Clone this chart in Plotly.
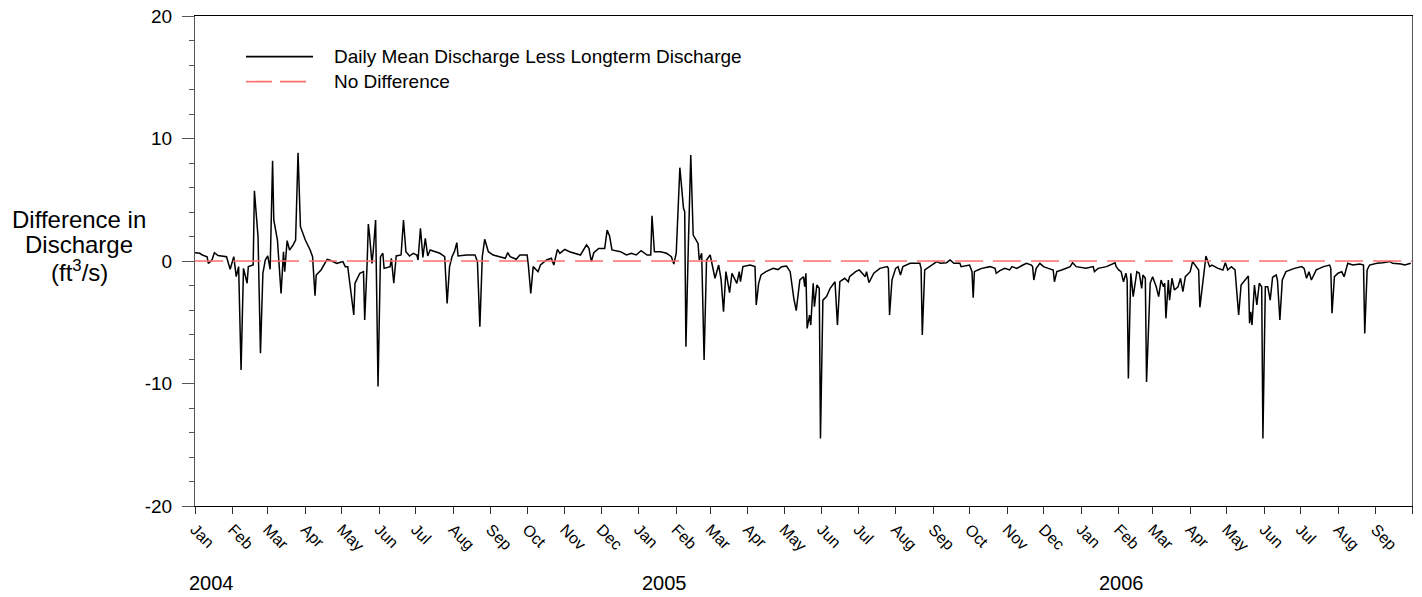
import pandas as pd
import plotly.graph_objects as go

# ---- data: day offsets from 2004-01-01 and discharge difference (ft3/s) ----
day_offset = [
    0, 4, 6, 10, 11, 14, 16, 19, 26, 29, 32, 34, 36, 38, 40, 43, 44, 48, 49, 52,
    54, 56, 58, 60, 62, 64, 65, 68, 71, 73, 74, 76, 78, 81, 83, 85, 87, 91, 95, 97,
    99, 100, 104, 109, 111, 117, 122, 124, 126, 128, 131, 132, 136, 139, 140, 142, 143, 144, 146, 147,
    149, 151, 153, 155, 156, 161, 162, 164, 166, 170, 172, 174, 177, 180, 183, 184, 186, 188, 190, 192,
    194, 202, 206, 208, 210, 212, 214, 216, 217, 224, 231, 233, 235, 237, 239, 242, 246, 256, 258, 260,
    265, 268, 274, 275, 277, 279, 283, 285, 290, 294, 296, 299, 301, 305, 309, 318, 323, 325, 327, 329,
    333, 338, 340, 342, 344, 351, 356, 360, 364, 368, 373, 376, 377, 379, 384, 389, 393, 395, 397, 400,
    403, 404, 405, 407, 409, 411, 415, 416, 418, 420, 422, 425, 427, 429, 432, 434, 436, 438, 441, 443,
    447, 449, 450, 452, 458, 462, 463, 465, 467, 471, 477, 481, 484, 488, 491, 494, 496, 499, 502, 503,
    504, 505, 507, 508, 510, 511, 513, 515, 516, 518, 521, 524, 528, 530, 532, 536, 539, 540, 545, 548,
    553, 554, 556, 560, 565, 571, 572, 573, 575, 578, 580, 582, 584, 590, 598, 599, 600, 602, 606, 612,
    615, 620, 623, 626, 631, 632, 639, 641, 642, 643, 646, 649, 656, 660, 661, 664, 668, 672, 674, 678,
    683, 686, 690, 691, 692, 694, 697, 700, 704, 708, 709, 711, 715, 722, 724, 727, 735, 741, 742, 745,
    752, 757, 759, 760, 762, 764, 766, 768, 769, 770, 772, 774, 777, 779, 781, 782, 784, 785, 788, 790,
    793, 795, 797, 799, 800, 801, 803, 804, 806, 808, 811, 813, 815, 817, 821, 823, 825, 828, 829, 832,
    833, 834, 837, 839, 844, 848, 850, 852, 855, 858, 859, 861, 863, 866, 869, 870, 871, 872, 874, 876,
    878, 880, 881, 883, 885, 887, 889, 892, 893, 895, 897, 900, 904, 907, 913, 915, 917, 919, 921, 925,
    931, 936, 937, 938, 940, 943, 946, 948, 951, 955, 961, 964, 965, 967, 969, 975, 980, 986, 988, 995,
    998, 1002, 1003,
]
diff_values = [
    0.68, 0.63, 0.49, 0.35, -0.19, 0.08, 0.68, 0.44, 0.35, -0.68, 0.35, -1.28, -0.46, -8.9, -0.6, -1.82, -0.46, -0.33, 5.74, 1.99,
    -7.53, -1.0, 0.08, 0.41, -0.68, 8.19, 3.35, 1.71, -2.64, 0.76, -0.87, 1.66, 0.9, 1.31, 1.71, 8.84, 2.8, 1.71, 0.9, 0.35,
    -2.83, -1.14, -0.73, 0.14, 0.08, -0.19, -0.05, -0.46, -0.46, -2.1, -4.4, -1.82, -1.0, -0.87, -4.81, -0.19, 3.02, 2.12, -0.19, 0.76,
    3.35, -10.25, 0.35, 0.63, -0.6, -0.46, 0.22, -1.82, 0.41, 0.49, 3.35, 0.76, 0.41, 0.63, 0.49, 0.08, 2.67, 0.3, 1.85, 0.41,
    0.9, 0.63, 0.35, -3.46, -0.46, 0.35, 0.76, 1.5, 0.41, 0.49, 0.49, -0.05, -5.36, 0.35, 1.77, 0.76, 0.49, 0.22, 0.68, 0.35,
    0.14, 0.49, 0.49, -0.33, -2.64, -0.46, -0.87, -0.33, 0.08, 0.22, -0.33, 0.95, 0.63, 0.95, 0.76, 0.49, 1.31, 1.03, -0.05, 0.68,
    1.03, 1.03, 2.52, 2.04, 0.9, 0.76, 0.49, 0.63, 0.49, 0.84, 0.49, 0.49, 3.7, 0.76, 0.76, 0.63, 0.35, -0.25, 0.63, 7.62,
    4.3, 4.03, -7.0, 1.31, 8.65, 2.12, 1.44, 0.08, 0.63, -8.08, 0.08, 0.49, -0.46, -1.41, -0.33, -1.5, -4.13, -0.87, -2.58, -1.0,
    -1.82, -0.87, -1.69, -0.46, -0.33, -0.46, -3.59, -1.82, -1.14, -0.87, -0.6, -0.7, -0.46, -0.41, -0.87, -3.05, -4.05, -1.55, -1.28, -2.1,
    -1.0, -5.5, -4.41, -5.23, -1.82, -3.73, -1.96, -2.23, -14.48, -3.19, -2.91, -2.23, -1.69, -5.23, -1.69, -1.41, -1.69, -1.28, -0.87, -0.73,
    -1.28, -0.87, -1.77, -1.0, -0.6, -0.46, -0.6, -4.41, -1.55, -0.6, -0.46, -1.14, -0.46, -0.19, -0.19, -0.6, -6.04, -0.73, -0.46, -0.05,
    -0.19, -0.14, 0.08, -0.19, -0.19, -0.46, -0.33, -0.87, -3.0, -0.87, -0.73, -0.6, -0.46, -0.6, -1.0, -0.79, -0.6, -0.73, -0.46, -0.6,
    -0.33, -0.19, -0.33, -0.46, -1.55, -0.6, -0.19, -0.46, -0.6, -0.73, -1.69, -0.87, -0.73, -0.46, -0.14, -0.46, -0.6, -0.46, -0.87, -0.6,
    -0.46, -0.24, -0.14, -0.46, -0.73, -0.87, -1.69, -1.0, -1.55, -9.6, -1.0, -2.91, -0.87, -1.0, -2.23, -1.14, -1.41, -9.87, -1.82, -1.28,
    -2.1, -2.91, -1.55, -2.1, -1.82, -4.68, -1.55, -3.19, -1.41, -2.37, -2.1, -1.41, -2.5, -1.28, -0.87, -0.05, -0.33, -0.73, -3.78, -0.87,
    -0.46, 0.41, -0.46, -0.33, -0.6, -0.73, -0.14, -0.73, -0.46, -0.73, -2.1, -4.41, -1.96, -1.55, -1.22, -5.09, -4.14, -5.23, -1.96, -3.59,
    -1.82, -2.1, -14.48, -2.1, -2.1, -3.19, -1.33, -1.14, -1.55, -4.82, -1.55, -0.87, -0.73, -0.6, -0.46, -0.6, -1.41, -0.87, -1.55, -0.73,
    -0.46, -0.33, -0.6, -4.27, -1.28, -1.0, -0.87, -1.28, -0.19, -0.33, -0.24, -0.33, -5.91, -0.73, -0.33, -0.19, -0.14, -0.05, -0.19, -0.24,
    -0.33, -0.19, -0.19,
]
record_start = "2004-01-01"
axis_end = "2006-10-01"
no_diff_dates = [record_start, axis_end]
no_diff_values = [0, 0]

y_ticks = [-20, -10, 0, 10, 20]
y_tick_labels = ["-20", "-10", "0", "10", "20"]
year_labels = ["2004", "2005", "2006"]
y_title_lines = ["Difference in", "Discharge", "(ft<sup>3</sup>/s)"]
legend_labels = ["Daily Mean Discharge Less Longterm Discharge", "No Difference"]

dates = pd.Timestamp(record_start) + pd.to_timedelta(day_offset, unit="D")

FONT = "Liberation Sans, Arial, sans-serif"
RED = "#ff6e6e"

fig = go.Figure()
fig.add_trace(go.Scatter(
    x=dates, y=diff_values, mode="lines",
    line=dict(color="black", width=1.5), name=legend_labels[0], showlegend=False,
))
fig.add_trace(go.Scatter(
    x=no_diff_dates, y=no_diff_values, mode="lines",
    line=dict(color=RED, width=1.6, dash="28px,10px"), name=legend_labels[1], showlegend=False,
))

fig.update_layout(
    width=1422, height=597,
    margin=dict(l=195, r=10, t=16, b=91, autoexpand=False),
    paper_bgcolor="white", plot_bgcolor="white",
    font=dict(family=FONT, color="black"),
    showlegend=False,
)
fig.update_xaxes(
    type="date", range=[record_start, axis_end], automargin=False,
    tick0=record_start, dtick="M1", tickformat="%b", tickangle=45,
    ticks="outside", ticklen=7, tickcolor="#333", tickwidth=1,
    showline=True, linecolor="black", linewidth=1, mirror=True,
    showgrid=False, zeroline=False,
    tickfont=dict(size=16, family=FONT, color="black"),
)
fig.update_yaxes(
    range=[-20, 20], tickvals=y_ticks, ticktext=y_tick_labels, automargin=False,
    ticks="outside", ticklen=12, tickcolor="#555", tickwidth=1,
    minor=dict(dtick=2, ticks="outside", ticklen=5, tickcolor="#555"),
    showline=True, linecolor="#555", linewidth=1, mirror=True,
    showgrid=False, zeroline=False, ticklabelstandoff=6,
    tickfont=dict(size=19, family=FONT, color="black"),
)

# y-axis title (horizontal, three lines)
for line_txt, yp in zip(y_title_lines, [0.5857, 0.5327, 0.4796]):
    fig.add_annotation(
        text=line_txt, xref="paper", yref="paper", x=-0.0953, y=yp,
        xanchor="center", yanchor="middle", showarrow=False,
        font=dict(size=24, family=FONT, color="black"),
    )

# year labels below month ticks
for lbl, xp in zip(year_labels, [-0.0066, 0.3657, 0.7412]):
    fig.add_annotation(
        text=lbl, xref="paper", yref="paper", x=xp, y=-0.157,
        xanchor="left", yanchor="middle", showarrow=False,
        font=dict(size=20, family=FONT, color="black"),
    )

# legend drawn inside the plot area
legend_rows = [(0.917, "black", "solid"), (0.866, RED, "26px,8px")]
for (yp, col, dash), lbl in zip(legend_rows, legend_labels):
    fig.add_shape(
        type="line", xref="paper", yref="paper",
        x0=0.0419, x1=0.097, y0=yp, y1=yp,
        line=dict(color=col, width=1.6, dash=dash),
    )
    fig.add_annotation(
        text=lbl, xref="paper", yref="paper", x=0.1123, y=yp,
        xanchor="left", yanchor="middle", showarrow=False,
        font=dict(size=19, family=FONT, color="black"),
    )

fig.write_html(
    "out.html",
    config={"displayModeBar": False},
    post_script="document.body.style.margin='0px';document.body.style.overflow='hidden';",
)
